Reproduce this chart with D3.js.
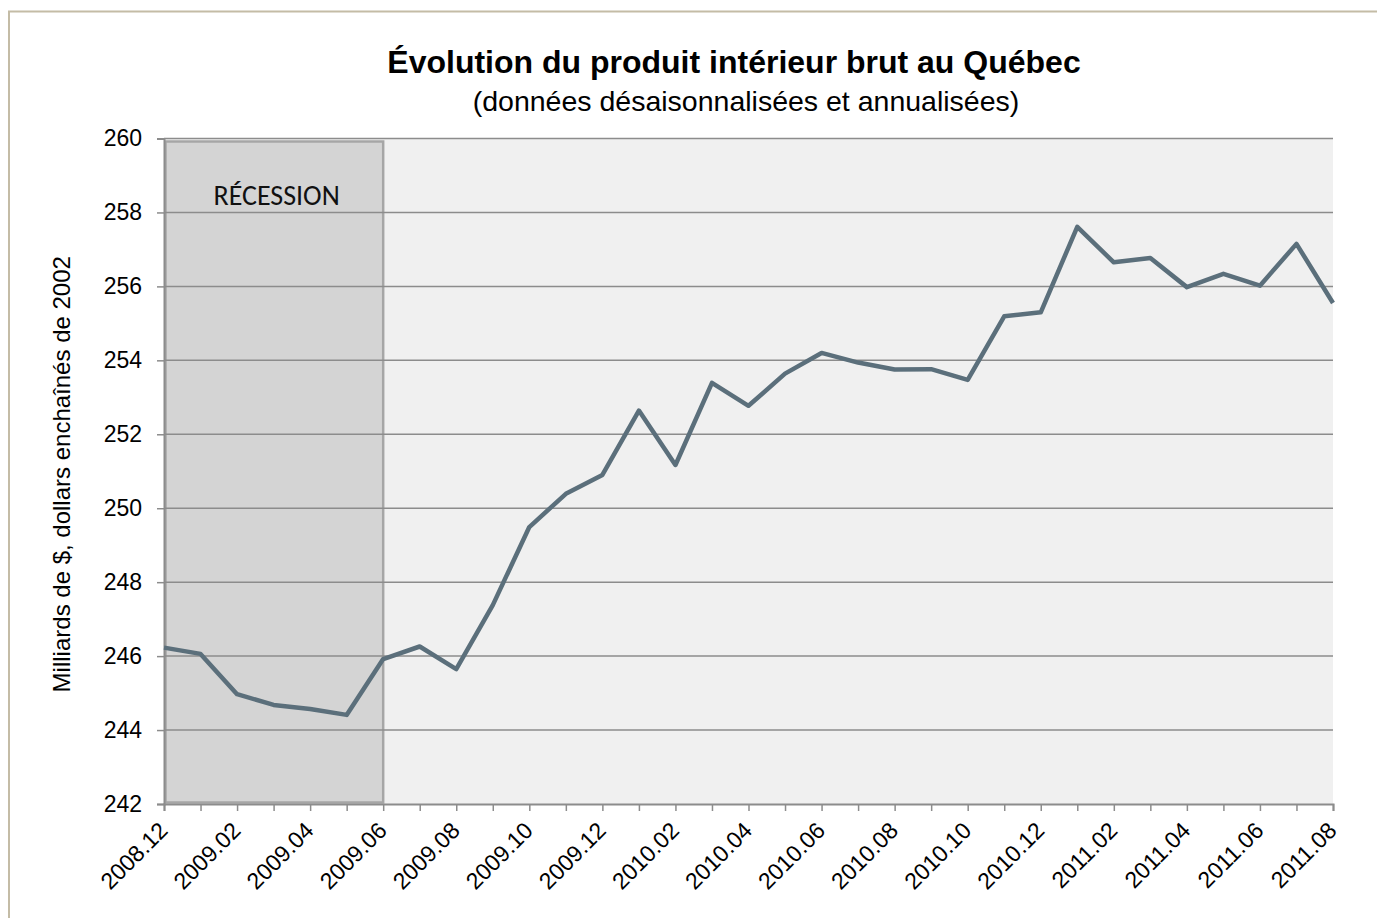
<!DOCTYPE html>
<html><head><meta charset="utf-8">
<script src="https://cdn.jsdelivr.net/npm/d3@7"></script>
<style>body{margin:0;background:#fff}svg{display:block}</style>
</head><body>
<svg id="c" width="1377" height="918"></svg>
<script>
const months = ["2008.12","2009.01","2009.02","2009.03","2009.04","2009.05","2009.06","2009.07","2009.08","2009.09","2009.10","2009.11","2009.12","2010.01","2010.02","2010.03","2010.04","2010.05","2010.06","2010.07","2010.08","2010.09","2010.10","2010.11","2010.12","2011.01","2011.02","2011.03","2011.04","2011.05","2011.06","2011.07","2011.08"];
const gdp = [246.23,246.06,244.97,244.68,244.57,244.41,245.92,246.26,245.65,247.38,249.49,250.39,250.90,252.64,251.17,253.39,252.77,253.64,254.20,253.94,253.75,253.76,253.47,255.19,255.30,257.61,256.65,256.77,255.98,256.34,256.02,257.15,255.55];
const yTicks = [242,244,246,248,250,252,254,256,258,260];
const recession = ["2008.12","2009.06"];
const title = "Évolution du produit intérieur brut au Québec";
const subtitle = "(données désaisonnalisées et annualisées)";
const yLabel = "Milliards de $, dollars enchaînés de 2002";
const recessionLabel = "RÉCESSION";

const svg = d3.select("#c");
const L = 164, R = 1333, T = 138.5, B = 804;
const x = d3.scalePoint().domain(months).range([L, R]);
const y = d3.scaleLinear().domain([242, 260]).range([B, T]);
const FONT = "Liberation Sans, Arial, sans-serif";

// outer border
svg.append("path").attr("d", `M9,930 L9,11.5 L1390,11.5`).attr("fill","none").attr("stroke","#c4bca6").attr("stroke-width",2);

// plot background
svg.append("rect").attr("x", L).attr("y", T).attr("width", R - L).attr("height", B - T).attr("fill", "#f0f0f0");

// recession shading
svg.append("rect").attr("x", x(recession[0]) + 1.5).attr("y", T + 3).attr("width", x(recession[1]) - x(recession[0]) - 1.5).attr("height", B - T - 4.5)
  .attr("fill", "#d4d4d4").attr("stroke", "#a6a6a6").attr("stroke-width", 2.5);

// gridlines
svg.append("g").selectAll("line").data(yTicks.filter(d => d > 242)).join("line")
  .attr("x1", L).attr("x2", R).attr("y1", d => y(d)).attr("y2", d => y(d))
  .attr("stroke", "#8c8c8c").attr("stroke-width", 1.5);

// y axis
const yAxis = svg.append("g").attr("transform", `translate(${L},0)`)
  .call(d3.axisLeft(y).tickValues(yTicks).tickSize(7).tickPadding(15).tickFormat(d3.format("d")));
yAxis.select(".domain").attr("stroke", "#8c8c8c").attr("stroke-width", 2);
yAxis.selectAll(".tick line").attr("stroke", "#8c8c8c").attr("stroke-width", 1.5);
yAxis.selectAll("text").attr("font-family", FONT).attr("font-size", 23).attr("fill", "#000");

// x axis
const xAxis = svg.append("g").attr("transform", `translate(0,${B})`)
  .call(d3.axisBottom(x).tickSize(7).tickFormat(""));
xAxis.select(".domain").attr("stroke", "#8c8c8c").attr("stroke-width", 2);
xAxis.selectAll(".tick line").attr("stroke", "#8c8c8c").attr("stroke-width", 1.5);
svg.append("g").selectAll("text").data(months.filter((d, i) => i % 2 === 0)).join("text")
  .attr("transform", d => `translate(${x(d) + 5},${B + 28}) rotate(-45)`)
  .attr("text-anchor", "end")
  .attr("font-family", FONT).attr("font-size", 23).attr("fill", "#000")
  .text(d => d);

// line
svg.append("path").datum(gdp)
  .attr("d", d3.line().x((d, i) => x(months[i])).y(d => y(d)))
  .attr("fill", "none").attr("stroke", "#5b6f7b").attr("stroke-width", 4.5).attr("stroke-linejoin", "round");

// recession label
svg.append("text").attr("x", (x(recession[0]) + x(recession[1])) / 2 + 3).attr("y", 205)
  .attr("text-anchor", "middle").attr("font-family", "Carlito, Lato, 'Open Sans', sans-serif").attr("font-size", 28).attr("fill", "#111")
  .text(recessionLabel);

// titles
svg.append("text").attr("x", 734).attr("y", 73).attr("text-anchor", "middle")
  .attr("font-family", FONT).attr("font-weight", "bold").attr("font-size", 32).attr("fill", "#000").text(title);
svg.append("text").attr("x", 746).attr("y", 111).attr("text-anchor", "middle")
  .attr("font-family", FONT).attr("font-size", 28.5).attr("fill", "#000").text(subtitle);

// y label
svg.append("text").attr("transform", `translate(70,${(T + B) / 2 + 3}) rotate(-90)`).attr("text-anchor", "middle")
  .attr("font-family", FONT).attr("font-size", 24).attr("fill", "#000").text(yLabel);
</script>
</body></html>
